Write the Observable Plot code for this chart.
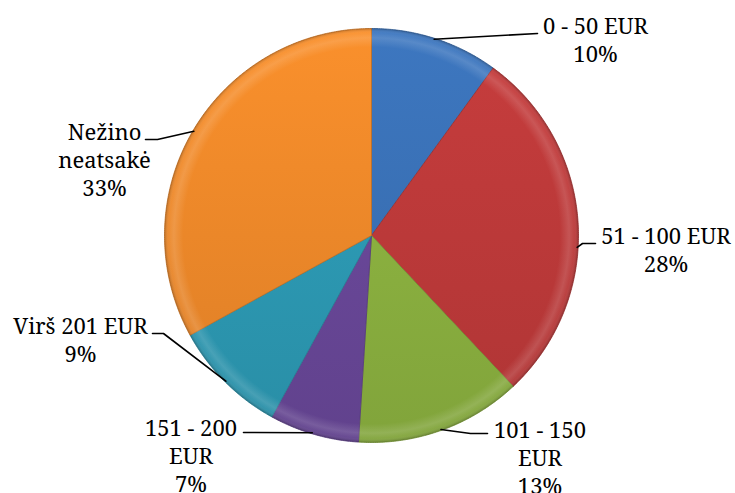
<!DOCTYPE html>
<html>
<head>
<meta charset="utf-8">
<script src="https://cdn.jsdelivr.net/npm/d3@7"></script>
<script src="https://cdn.jsdelivr.net/npm/@observablehq/plot@0.6"></script>
<style>
  html, body { margin: 0; padding: 0; background: #ffffff; }
  #chart svg { display: block; }
</style>
</head>
<body>
<div id="chart"></div>
<script>
// ---- Data ----
const categories = ["0 - 50 EUR", "51 - 100 EUR", "101 - 150 EUR", "151 - 200 EUR", "Virš 201 EUR", "Nežino neatsakė"];
const values = [10, 28, 13, 7, 9, 33];
const labelLines = [
  ["0 - 50 EUR", "10%"],
  ["51 - 100 EUR", "28%"],
  ["101 - 150", "EUR", "13%"],
  ["151 - 200", "EUR", "7%"],
  ["Virš 201 EUR", "9%"],
  ["Nežino", "neatsakė", "33%"]
];
const colors = ["#3A72B8", "#BF3A3A", "#8DB340", "#6A489A", "#2D9BB6", "#F08A2A"];

// ---- Layout ----
const W = 735, H = 493;
const cx = 371, cy = 235, R = 207;
const fontSize = 22, lineH = 28;
const serif = "'Noto Serif', 'Liberation Serif', serif";
// label block: center x, first baseline; leader: rim angle (deg) + elbow points
const labelLayout = [
  {x: 595,   y: 33,  rim: 17.7,  elbow: [[537, 33]]},
  {x: 665.5, y: 243, rim: 93.3,  elbow: [[582, 243], [595, 243]]},
  {x: 539.5, y: 437, rim: 160.3, elbow: [[470, 433], [487, 433]]},
  {x: 190.5, y: 435, rim: 196.7, elbow: [[243, 432]]},
  {x: 80,    y: 333, rim: 225,   elbow: [[163, 333], [152, 333]]},
  {x: 104,   y: 139, rim: 300.4, elbow: [[157, 139], [145, 139]]}
];

const total = d3.sum(values);
const rad = a => a * Math.PI / 180;
const polar = (deg, r) => [cx + r * Math.sin(rad(deg)), cy - r * Math.cos(rad(deg))];

// slice polygons
let acc = 0;
const slices = values.map((v, i) => {
  const a0 = acc / total * 360;
  acc += v;
  const a1 = acc / total * 360;
  const pts = [{i, x: cx, y: cy}];
  const n = Math.max(2, Math.ceil((a1 - a0) / 0.5));
  for (let k = 0; k <= n; k++) {
    const [x, y] = polar(a0 + (a1 - a0) * k / n, R);
    pts.push({i, x, y});
  }
  pts.push({i, x: cx, y: cy});
  return pts;
});

// full circle for bevel overlay
const ring = d3.range(0, 361, 0.5).map(a => { const [x, y] = polar(a, R); return {x, y}; });

// leader lines
const leaders = labelLayout.flatMap((L, i) => {
  const [x0, y0] = polar(L.rim, R - 1);
  return [{i, x: x0, y: y0}, ...L.elbow.map(([x, y]) => ({i, x, y}))];
});

// text rows
const texts = labelLines.flatMap((lines, i) =>
  lines.map((t, k) => ({t, x: labelLayout[i].x, y: labelLayout[i].y + k * lineH}))
);

const chart = Plot.plot({
  width: W,
  height: H,
  margin: 0,
  x: {domain: [0, W], range: [0, W], axis: null},
  y: {domain: [0, H], range: [0, H], axis: null},
  style: `background: #ffffff; font-family: ${serif};`,
  marks: [
    ...slices.map((pts, i) =>
      Plot.line(pts, {x: "x", y: "y", fill: `url(#g${i})`, stroke: d3.color(colors[i]).darker(0.6).formatHex(), strokeWidth: 0.8, curve: "linear-closed"})
    ),
    Plot.line(ring, {x: "x", y: "y", fill: "url(#bevel)", stroke: "none", curve: "linear-closed"}),
    Plot.line(leaders, {x: "x", y: "y", z: "i", stroke: "#000000", strokeWidth: 1.6, curve: "linear"}),
    Plot.text(texts, {x: "x", y: "y", text: "t", textAnchor: "middle", lineAnchor: "top", dy: -0.71 * fontSize, fontSize, fontFamily: serif, fill: "#000000"})
  ]
});

d3.select(chart).selectAll("text").style("font-family", serif);

// gradient definitions
const svg = d3.select(chart);
const defs = svg.insert("defs", ":first-child");
colors.forEach((c, i) => {
  const g = defs.append("linearGradient").attr("id", `g${i}`)
    .attr("gradientUnits", "userSpaceOnUse")
    .attr("x1", cx).attr("y1", cy - R).attr("x2", cx).attr("y2", cy + R);
  g.append("stop").attr("offset", "0").attr("stop-color", d3.color(c).brighter(0.12).formatHex());
  g.append("stop").attr("offset", "1").attr("stop-color", d3.color(c).darker(0.25).formatHex());
});
const b = defs.append("radialGradient").attr("id", "bevel")
  .attr("gradientUnits", "userSpaceOnUse").attr("cx", cx).attr("cy", cy).attr("r", R);
[[0, "#ffffff", 0], [0.91, "#ffffff", 0], [0.955, "#ffffff", 0.14], [0.98, "#ffffff", 0.05], [1, "#000000", 0.2]]
  .forEach(([o, c, op]) => b.append("stop").attr("offset", o).attr("stop-color", c).attr("stop-opacity", op));

document.getElementById("chart").appendChild(chart);
</script>
</body>
</html>
